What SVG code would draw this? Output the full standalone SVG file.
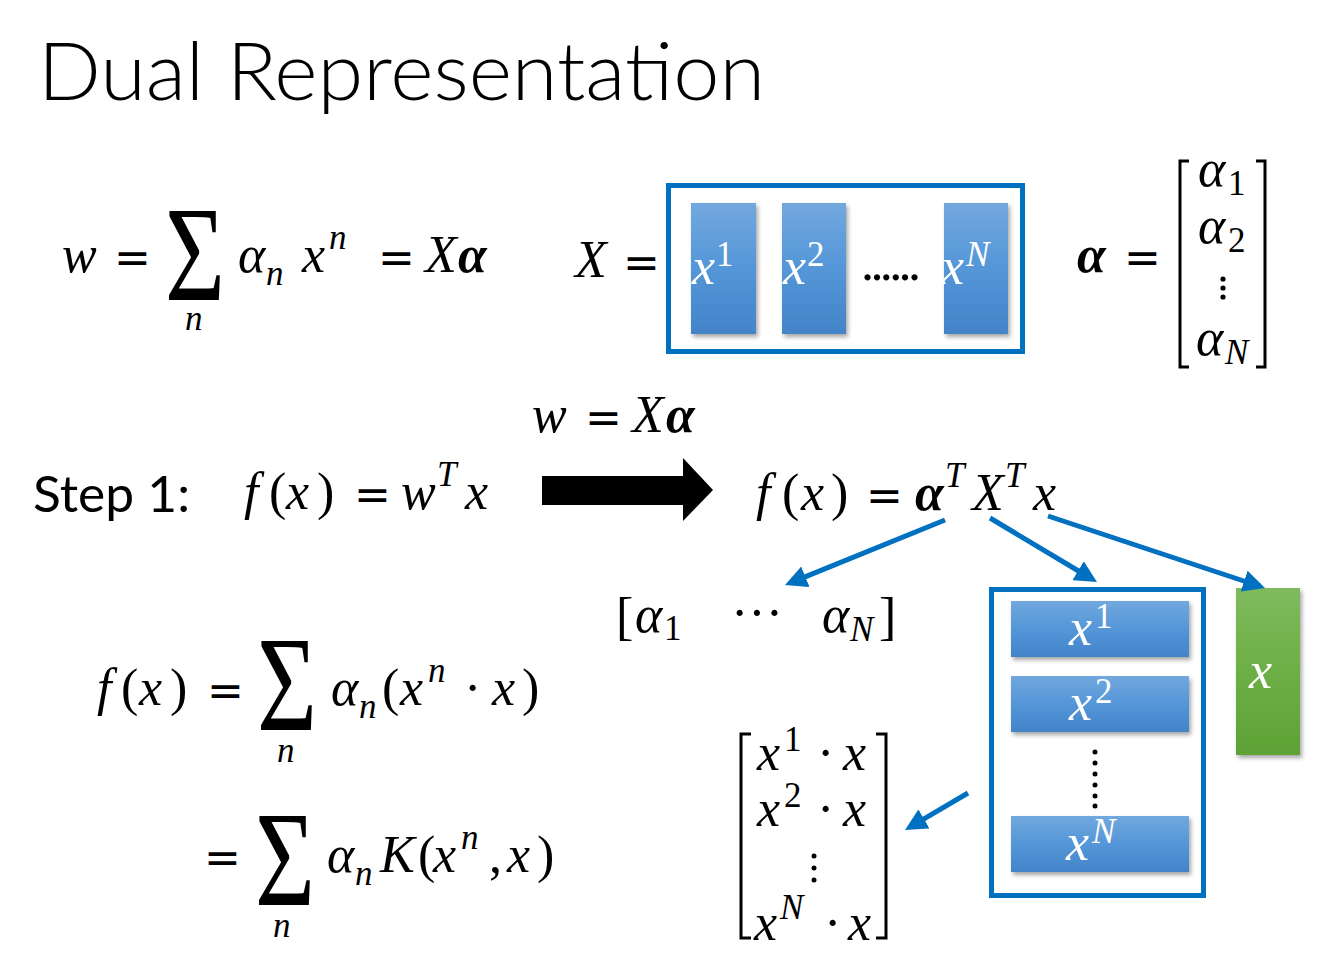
<svg xmlns="http://www.w3.org/2000/svg" width="1330" height="968" viewBox="0 0 1330 968">
<style>
.m{font-family:"Liberation Serif","DejaVu Serif",serif;font-style:italic;font-size:52px;fill:#000}
.r{font-style:normal}
.s{font-size:35px}
.b{font-weight:bold}
.e{font-family:"DejaVu Sans",sans-serif;font-style:normal;font-size:44px}
.wt{fill:#fff}
.sig{font-family:"Liberation Serif",serif;font-size:136px;fill:#000}
.frame{fill:none;stroke:#0070C0;stroke-width:5}
.brk{fill:none;stroke:#000;stroke-width:3}
.conn{stroke:#0070C0;stroke-width:5;fill:none;marker-end:url(#ah)}
.sans{font-family:Lato,"Open Sans","Liberation Sans",sans-serif;fill:#000}
</style>
<defs>
<linearGradient id="gb" x1="0" y1="0" x2="0" y2="1"><stop offset="0" stop-color="#72A8DE"/><stop offset="0.5" stop-color="#5496D8"/><stop offset="1" stop-color="#4384C8"/></linearGradient>
<linearGradient id="gg" x1="0" y1="0" x2="0" y2="1"><stop offset="0" stop-color="#80BA5E"/><stop offset="0.5" stop-color="#6CAF45"/><stop offset="1" stop-color="#5EA236"/></linearGradient>
<filter id="sh" x="-20%" y="-20%" width="140%" height="140%"><feDropShadow dx="2" dy="3" stdDeviation="2" flood-color="#000" flood-opacity="0.35"/></filter>
<marker id="ah" viewBox="0 0 10 10" refX="2" refY="5" markerWidth="4.4" markerHeight="4.4" orient="auto" markerUnits="strokeWidth"><path d="M0,0 L10,5 L0,10 z" fill="#0070C0"/></marker>
</defs>

<text class="sans" x="38" y="100" font-size="80" font-weight="300" textLength="727" lengthAdjust="spacingAndGlyphs">Dual Representation</text>

<g id="formula-w">
<text class="m" x="62" y="272">w</text>
<text class="m e" x="114" y="273">=</text>
<text class="sig" x="165" y="300" textLength="60" lengthAdjust="spacingAndGlyphs">Σ</text>
<text class="m s" x="185" y="330">n</text>
<text class="m" x="238" y="272">α</text>
<text class="m s" x="266" y="285">n</text>
<text class="m" x="302" y="272">x</text>
<text class="m s" x="329" y="249">n</text>
<text class="m e" x="378" y="273">=</text>
<text class="m" x="425" y="272">X</text>
<text class="m b" x="458" y="272">α</text>
</g>

<g id="matrix-X">
<text class="m" x="575" y="277">X</text>
<text class="m e" x="623" y="278">=</text>
<rect class="frame" x="668.5" y="185.5" width="354" height="166"/>
<g filter="url(#sh)">
<rect x="691" y="203" width="65" height="131" fill="url(#gb)"/>
<rect x="782" y="203" width="64" height="131" fill="url(#gb)"/>
<rect x="944" y="203" width="64" height="131" fill="url(#gb)"/>
</g>
<text class="m wt" x="692" y="284">x</text><text class="m r s wt" x="716" y="266">1</text>
<text class="m wt" x="783" y="284">x</text><text class="m r s wt" x="807" y="266">2</text>
<text class="m r" x="861" y="280" font-size="36" textLength="60" lengthAdjust="spacing">......</text>
<text class="m wt" x="941" y="284">x</text><text class="m s wt" x="966" y="266">N</text>
</g>

<g id="vector-alpha">
<text class="m b" x="1077" y="272">α</text>
<text class="m e" x="1124" y="273">=</text>
<path class="brk" d="M1189,161 H1180 V367 H1189"/>
<path class="brk" d="M1256,161 H1265 V367 H1256"/>
<text class="m" x="1198" y="186">α</text><text class="m r s" x="1228" y="195">1</text>
<text class="m" x="1198" y="243">α</text><text class="m r s" x="1228" y="252">2</text>
<circle cx="1223" cy="279" r="2.6"/><circle cx="1223" cy="288" r="2.6"/><circle cx="1223" cy="297" r="2.6"/>
<text class="m" x="1196" y="355">α</text><text class="m s" x="1225" y="364">N</text>
</g>

<g id="step1">
<text class="sans" x="33" y="512" font-size="50" textLength="157" lengthAdjust="spacingAndGlyphs">Step 1:</text>
<text class="m" x="244" y="509">f</text>
<text class="m r" x="269" y="509">(</text>
<text class="m" x="286" y="509">x</text>
<text class="m r" x="317" y="509">)</text>
<text class="m e" x="354" y="510">=</text>
<text class="m" x="401" y="509">w</text>
<text class="m s" x="437" y="486">T</text>
<text class="m" x="465" y="509">x</text>
</g>

<g id="substitution">
<text class="m" x="532" y="432">w</text>
<text class="m e" x="585" y="433">=</text>
<text class="m" x="632" y="432">X</text>
<text class="m b" x="666" y="432">α</text>
<polygon points="542,476 683,476 683,458 713,490 683,521 683,505 542,505" fill="#000"/>
</g>

<g id="formula-dual">
<text class="m" x="756" y="510">f</text>
<text class="m r" x="782" y="510">(</text>
<text class="m" x="801" y="510">x</text>
<text class="m r" x="831" y="510">)</text>
<text class="m e" x="866" y="511">=</text>
<text class="m b" x="915" y="510">α</text>
<text class="m s" x="945" y="487">T</text>
<text class="m" x="972" y="510">X</text>
<text class="m s" x="1005" y="487">T</text>
<text class="m" x="1033" y="510">x</text>
</g>

<g id="alpha-row">
<text class="m r" x="616" y="634">[</text>
<text class="m" x="635" y="632">α</text><text class="m r s" x="664" y="640">1</text>
<text class="m r" x="731" y="630">···</text>
<text class="m" x="822" y="632">α</text><text class="m s" x="850" y="641">N</text>
<text class="m r" x="879" y="634">]</text>
</g>

<g id="xt-stack">
<rect class="frame" x="991.5" y="589.5" width="212" height="306"/>
<g filter="url(#sh)">
<rect x="1011" y="601" width="178" height="56" fill="url(#gb)"/>
<rect x="1011" y="676" width="178" height="56" fill="url(#gb)"/>
<rect x="1011" y="816" width="178" height="56" fill="url(#gb)"/>
</g>
<text class="m wt" x="1069" y="645">x</text><text class="m r s wt" x="1095" y="628">1</text>
<text class="m wt" x="1069" y="720">x</text><text class="m r s wt" x="1095" y="703">2</text>
<g fill="#000"><circle cx="1095" cy="752" r="2.5"/><circle cx="1095" cy="763" r="2.5"/><circle cx="1095" cy="774" r="2.5"/><circle cx="1095" cy="785" r="2.5"/><circle cx="1095" cy="796" r="2.5"/><circle cx="1095" cy="806" r="2.5"/></g>
<text class="m wt" x="1066" y="860">x</text><text class="m s wt" x="1092" y="843">N</text>
</g>

<g id="x-vector">
<rect x="1236" y="588" width="64" height="167" fill="url(#gg)" filter="url(#sh)"/>
<text class="m wt" x="1249" y="688">x</text>
</g>

<g id="formula-sum">
<text class="m" x="97" y="705">f</text>
<text class="m r" x="121" y="705">(</text>
<text class="m" x="139" y="705">x</text>
<text class="m r" x="170" y="705">)</text>
<text class="m e" x="207" y="706">=</text>
<text class="sig" x="257" y="730" textLength="60" lengthAdjust="spacingAndGlyphs">Σ</text>
<text class="m s" x="277" y="762">n</text>
<text class="m" x="331" y="705">α</text><text class="m s" x="359" y="718">n</text>
<text class="m r" x="382" y="705">(</text>
<text class="m" x="400" y="705">x</text><text class="m s" x="428" y="682">n</text>
<text class="m r" x="464" y="705">·</text>
<text class="m" x="492" y="705">x</text>
<text class="m r" x="522" y="705">)</text>
</g>

<g id="formula-kernel">
<text class="m e" x="204" y="873">=</text>
<text class="sig" x="255" y="905" textLength="60" lengthAdjust="spacingAndGlyphs">Σ</text>
<text class="m s" x="273" y="937">n</text>
<text class="m" x="327" y="872">α</text><text class="m s" x="355" y="885">n</text>
<text class="m" x="380" y="872">K</text>
<text class="m r" x="418" y="872">(</text>
<text class="m" x="433" y="872">x</text><text class="m s" x="461" y="849">n</text>
<text class="m r" x="489" y="872">,</text>
<text class="m" x="507" y="872">x</text>
<text class="m r" x="537" y="872">)</text>
</g>

<g id="result-matrix">
<path class="brk" d="M751,734 H741 V938 H751"/>
<path class="brk" d="M876,734 H886 V938 H876"/>
<text class="m" x="757" y="770">x</text><text class="m r s" x="784" y="751">1</text>
<text class="m r" x="817" y="770">·</text><text class="m" x="843" y="770">x</text>
<text class="m" x="757" y="826">x</text><text class="m r s" x="784" y="807">2</text>
<text class="m r" x="817" y="826">·</text><text class="m" x="843" y="826">x</text>
<circle cx="814" cy="856" r="2.5"/><circle cx="814" cy="868" r="2.5"/><circle cx="814" cy="880" r="2.5"/>
<text class="m" x="754" y="940">x</text><text class="m s" x="780" y="919">N</text>
<text class="m r" x="824" y="940">·</text><text class="m" x="848" y="940">x</text>
</g>

<g id="connectors">
<line class="conn" x1="945" y1="520" x2="801.3" y2="578.4"/>
<line class="conn" x1="990" y1="518" x2="1081.9" y2="573"/>
<line class="conn" x1="1048" y1="516" x2="1248.3" y2="582.5"/>
<line class="conn" x1="968" y1="793" x2="920.2" y2="821.1"/>
</g>
</svg>
